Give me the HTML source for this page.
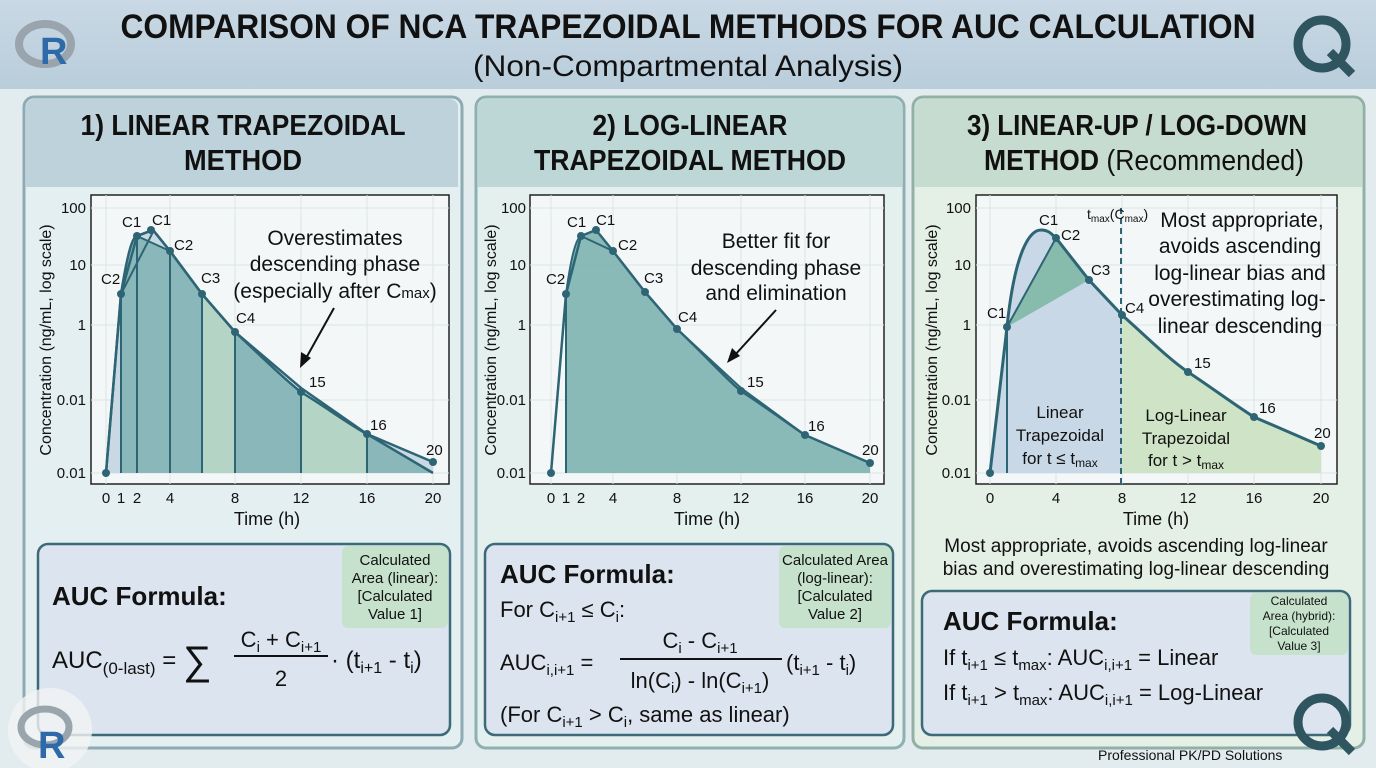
<!DOCTYPE html>
<html><head><meta charset="utf-8"><style>
html,body{margin:0;padding:0;width:1376px;height:768px;overflow:hidden;background:#dfe9ec}
svg{display:block}
text{font-family:"Liberation Sans Narrow","Liberation Sans",sans-serif;fill:#111}
.b{font-weight:bold}
.tk{font-size:15px}
.lb{font-size:15px}
</style></head><body>
<svg width="1376" height="768" viewBox="0 0 1376 768" xmlns="http://www.w3.org/2000/svg">
<defs>
<linearGradient id="hd" x1="0" x2="0" y1="0" y2="1"><stop offset="0" stop-color="#c9d8e4"/><stop offset="1" stop-color="#b9cddb"/></linearGradient>
</defs>
<rect width="1376" height="768" fill="#e2ecee"/>
<rect width="1376" height="89" fill="url(#hd)"/>
<!-- logos -->
<g><ellipse cx="45" cy="44" rx="26" ry="20" fill="none" stroke="#9aa4ad" stroke-width="8"/><text x="40" y="64" class="b" style="font-size:38px;fill:#2f6aa8">R</text></g>
<g><circle cx="1322" cy="44" r="24" fill="none" stroke="#2f5560" stroke-width="9"/><line x1="1330" y1="52" x2="1352" y2="74" stroke="#2f5560" stroke-width="9"/></g>
<text x="688" y="38" text-anchor="middle" class="b" style="font-size:34px" textLength="1135" lengthAdjust="spacingAndGlyphs">COMPARISON OF NCA TRAPEZOIDAL METHODS FOR AUC CALCULATION</text>
<text x="688" y="76" text-anchor="middle" style="font-size:30px" textLength="430" lengthAdjust="spacingAndGlyphs">(Non-Compartmental Analysis)</text>

<!-- panels -->
<rect x="24" y="97" width="438" height="651" rx="10" fill="#e3eff1" stroke="#8eaab4" stroke-width="3"/>
<path d="M26 187 V107 a8 8 0 0 1 8 -8 H450 a8 8 0 0 1 8 8 V187Z" fill="#bed2dc"/>
<rect x="476" y="97" width="428" height="651" rx="10" fill="#e3f0ee" stroke="#8eb0b0" stroke-width="3"/>
<path d="M478 187 V107 a8 8 0 0 1 8 -8 H894 a8 8 0 0 1 8 8 V187Z" fill="#bdd7d6"/>
<rect x="913" y="97" width="451" height="651" rx="10" fill="#e4efe6" stroke="#92b0a6" stroke-width="3"/>
<path d="M915 187 V107 a8 8 0 0 1 8 -8 H1354 a8 8 0 0 1 8 8 V187Z" fill="#c6dcd0"/>

<text x="243" y="135" text-anchor="middle" class="b" style="font-size:29px" textLength="325" lengthAdjust="spacingAndGlyphs">1) LINEAR TRAPEZOIDAL</text>
<text x="243" y="170" text-anchor="middle" class="b" style="font-size:29px" textLength="118" lengthAdjust="spacingAndGlyphs">METHOD</text>
<text x="690" y="135" text-anchor="middle" class="b" style="font-size:29px" textLength="195" lengthAdjust="spacingAndGlyphs">2) LOG-LINEAR</text>
<text x="690" y="170" text-anchor="middle" class="b" style="font-size:29px" textLength="312" lengthAdjust="spacingAndGlyphs">TRAPEZOIDAL METHOD</text>
<text x="1137" y="135" text-anchor="middle" class="b" style="font-size:29px" textLength="340" lengthAdjust="spacingAndGlyphs">3) LINEAR-UP / LOG-DOWN</text>
<text x="984" y="170" class="b" style="font-size:29px" textLength="320" lengthAdjust="spacingAndGlyphs">METHOD <tspan style="font-weight:normal">(Recommended)</tspan></text>

<!-- ===== chart 1 ===== -->
<g>
<rect x="91" y="195" width="358" height="289" fill="#f4f7f7" stroke="#222" stroke-width="1.5"/>
<g stroke="#dde3e3" stroke-width="1">
<line x1="91" y1="208" x2="449" y2="208"/><line x1="91" y1="265" x2="449" y2="265"/><line x1="91" y1="325" x2="449" y2="325"/><line x1="91" y1="400" x2="449" y2="400"/><line x1="91" y1="473" x2="449" y2="473"/>
<line x1="106" y1="195" x2="106" y2="484"/><line x1="170" y1="195" x2="170" y2="484"/><line x1="235" y1="195" x2="235" y2="484"/><line x1="301" y1="195" x2="301" y2="484"/><line x1="367" y1="195" x2="367" y2="484"/><line x1="433" y1="195" x2="433" y2="484"/>
</g>
<path d="M106 473 L121 294 L137 236 L153 230 L170 251 L202 294 L235 332 L301 392 L367 434 L433 462 L433 473Z" fill="#c9d9e4" stroke="none"/>
<path d="M121 473 L121 294 C128 250 133 236 137 236 L170 251 L202 294 L235 332 C260 355 285 380 301 392 C330 410 350 425 367 434 L433 473Z" fill="#7fb0b2" opacity="0.85"/>
<path d="M202 473 V294 L235 332 V473Z M301 473 V392 C330 410 350 425 367 434 V473Z" fill="#b8d8c6" opacity="0.9"/>
<path d="M106 473 L121 294 C128 250 133 236 137 236 L153 230 L170 251 L202 294 L235 332 C260 355 285 380 301 392 C330 410 350 425 367 434 L433 473" fill="none" stroke="#2d6575" stroke-width="2.5"/>
<path d="M106 473 L121 294 L137 236 L153 230 L170 251 L202 294 L235 332 L301 388 L367 434 L433 462" fill="none" stroke="#2d6575" stroke-width="2.5"/>
<path d="M121 294 L153 232 M137 236 L170 251" stroke="#2d6575" stroke-width="2" fill="none"/>
<g stroke="#2d6575" stroke-width="2"><line x1="121" y1="294" x2="121" y2="473"/><line x1="137" y1="236" x2="137" y2="473"/><line x1="170" y1="251" x2="170" y2="473"/><line x1="202" y1="294" x2="202" y2="473"/><line x1="235" y1="332" x2="235" y2="473"/><line x1="301" y1="392" x2="301" y2="473"/><line x1="367" y1="434" x2="367" y2="473"/></g>
<g fill="#2d6575"><circle cx="106" cy="473" r="4"/><circle cx="121" cy="294" r="4"/><circle cx="137" cy="236" r="4"/><circle cx="151" cy="230" r="4"/><circle cx="170" cy="251" r="4"/><circle cx="202" cy="294" r="4"/><circle cx="235" cy="332" r="4"/><circle cx="301" cy="392" r="4"/><circle cx="367" cy="434" r="4"/><circle cx="433" cy="462" r="4"/></g>
<g class="lb"><text x="101" y="284">C2</text><text x="122" y="227">C1</text><text x="152" y="225">C1</text><text x="174" y="250">C2</text><text x="201" y="283">C3</text><text x="236" y="323">C4</text><text x="309" y="387">15</text><text x="370" y="430">16</text><text x="426" y="455">20</text></g>
<g class="tk" text-anchor="end"><text x="86" y="213">100</text><text x="86" y="270">10</text><text x="86" y="330">1</text><text x="86" y="405">0.01</text><text x="86" y="478">0.01</text></g>
<g class="tk" text-anchor="middle"><text x="106" y="503">0</text><text x="121" y="503">1</text><text x="137" y="503">2</text><text x="170" y="503">4</text><text x="235" y="503">8</text><text x="301" y="503">12</text><text x="367" y="503">16</text><text x="433" y="503">20</text></g>
<text x="267" y="525" text-anchor="middle" style="font-size:18px">Time (h)</text>
<text transform="translate(51 340) rotate(-90)" text-anchor="middle" style="font-size:16px">Concentration (ng/mL, log scale)</text>
<g text-anchor="middle" style="font-size:21px"><text x="335" y="245">Overestimates</text><text x="335" y="271">descending phase</text><text x="335" y="298">(especially after C<tspan style="font-size:15px">max</tspan>)</text></g>
<path d="M334 308 L305 360" stroke="#111" stroke-width="2"/><path d="M300 368 L301 352 L311 358Z" fill="#111"/>
</g>

<!-- ===== chart 2 ===== -->
<g>
<rect x="530" y="195" width="354" height="289" fill="#f4f7f7" stroke="#222" stroke-width="1.5"/>
<g stroke="#dde3e3" stroke-width="1">
<line x1="530" y1="208" x2="884" y2="208"/><line x1="530" y1="265" x2="884" y2="265"/><line x1="530" y1="325" x2="884" y2="325"/><line x1="530" y1="400" x2="884" y2="400"/><line x1="530" y1="473" x2="884" y2="473"/>
<line x1="551" y1="195" x2="551" y2="484"/><line x1="613" y1="195" x2="613" y2="484"/><line x1="677" y1="195" x2="677" y2="484"/><line x1="741" y1="195" x2="741" y2="484"/><line x1="805" y1="195" x2="805" y2="484"/><line x1="870" y1="195" x2="870" y2="484"/>
</g>
<path d="M566 473 L566 294 C573 250 578 236 581 236 L596 230 L613 251 L645 292 L677 329 C705 355 725 378 741 391 C770 410 790 425 805 435 L870 463 V473Z" fill="#7db3b0" opacity="0.9"/>
<path d="M551 473 L566 294 L581 236 L596 230 L613 251 L645 292 L677 329 C705 355 725 378 741 391 C770 410 790 425 805 435 L870 463" fill="none" stroke="#2d6575" stroke-width="2.5"/>
<path d="M566 294 C572 250 577 238 581 236 M581 236 L613 251 M677 329 L741 388 L805 435" fill="none" stroke="#2d6575" stroke-width="2"/>
<line x1="566" y1="294" x2="566" y2="473" stroke="#2d6575" stroke-width="2"/>
<g fill="#2d6575"><circle cx="551" cy="473" r="4"/><circle cx="566" cy="294" r="4"/><circle cx="581" cy="236" r="4"/><circle cx="596" cy="230" r="4"/><circle cx="613" cy="251" r="4"/><circle cx="645" cy="292" r="4"/><circle cx="677" cy="329" r="4"/><circle cx="741" cy="391" r="4"/><circle cx="805" cy="435" r="4"/><circle cx="870" cy="463" r="4"/></g>
<g class="lb"><text x="546" y="284">C2</text><text x="567" y="227">C1</text><text x="596" y="225">C1</text><text x="618" y="250">C2</text><text x="644" y="283">C3</text><text x="678" y="322">C4</text><text x="747" y="387">15</text><text x="808" y="431">16</text><text x="862" y="455">20</text></g>
<g class="tk" text-anchor="end"><text x="526" y="213">100</text><text x="526" y="270">10</text><text x="526" y="330">1</text><text x="526" y="405">0.01</text><text x="526" y="478">0.01</text></g>
<g class="tk" text-anchor="middle"><text x="551" y="503">0</text><text x="566" y="503">1</text><text x="581" y="503">2</text><text x="613" y="503">4</text><text x="677" y="503">8</text><text x="741" y="503">12</text><text x="805" y="503">16</text><text x="870" y="503">20</text></g>
<text x="707" y="525" text-anchor="middle" style="font-size:18px">Time (h)</text>
<text transform="translate(496 340) rotate(-90)" text-anchor="middle" style="font-size:16px">Concentration (ng/mL, log scale)</text>
<g text-anchor="middle" style="font-size:21px"><text x="776" y="248">Better fit for</text><text x="776" y="275">descending phase</text><text x="776" y="300">and elimination</text></g>
<path d="M776 310 L734 356" stroke="#111" stroke-width="2"/><path d="M727 363 L732 348 L740 356Z" fill="#111"/>
</g>

<!-- ===== chart 3 ===== -->
<g>
<rect x="976" y="195" width="361" height="289" fill="#f4f7f7" stroke="#222" stroke-width="1.5"/>
<g stroke="#dde3e3" stroke-width="1">
<line x1="976" y1="208" x2="1337" y2="208"/><line x1="976" y1="265" x2="1337" y2="265"/><line x1="976" y1="325" x2="1337" y2="325"/><line x1="976" y1="400" x2="1337" y2="400"/><line x1="976" y1="473" x2="1337" y2="473"/>
<line x1="990" y1="195" x2="990" y2="484"/><line x1="1056" y1="195" x2="1056" y2="484"/><line x1="1122" y1="195" x2="1122" y2="484"/><line x1="1188" y1="195" x2="1188" y2="484"/><line x1="1254" y1="195" x2="1254" y2="484"/><line x1="1321" y1="195" x2="1321" y2="484"/>
</g>
<path d="M990 473 L1007 327 C1015 250 1030 230 1041 230 C1050 230 1053 236 1056 238 L1089 280 L1122 315 V473Z" fill="#c8d8e6"/>
<path d="M1007 327 L1056 238 L1089 280 Z" fill="#7fb9a6" opacity="0.9"/>
<path d="M1122 315 C1150 340 1170 360 1188 372 C1215 390 1235 405 1254 417 L1321 446 V473 H1122Z" fill="#cfe3c6"/>
<path d="M990 473 L1007 327 C1015 250 1030 230 1041 230 C1050 230 1053 236 1056 238 L1089 280 L1122 315 C1150 340 1170 360 1188 372 C1215 390 1235 405 1254 417 L1321 446" fill="none" stroke="#2d6575" stroke-width="3"/>
<path d="M1007 327 L1056 238 M1007 473 V327" stroke="#2d6575" stroke-width="2" fill="none"/>
<line x1="1121" y1="208" x2="1121" y2="484" stroke="#2d6575" stroke-width="2" stroke-dasharray="6 4"/>
<g fill="#2d6575"><circle cx="990" cy="473" r="4"/><circle cx="1007" cy="327" r="4"/><circle cx="1056" cy="238" r="4"/><circle cx="1089" cy="280" r="4"/><circle cx="1122" cy="315" r="4"/><circle cx="1188" cy="372" r="4"/><circle cx="1254" cy="417" r="4"/><circle cx="1321" cy="446" r="4"/></g>
<g class="lb"><text x="987" y="318">C1</text><text x="1039" y="225">C1</text><text x="1061" y="240">C2</text><text x="1091" y="275">C3</text><text x="1125" y="313">C4</text><text x="1194" y="368">15</text><text x="1259" y="413">16</text><text x="1314" y="438">20</text></g>
<text x="1087" y="219" style="font-size:14px">t<tspan style="font-size:10px" dy="3">max</tspan><tspan dy="-3">(C</tspan><tspan style="font-size:10px" dy="3">max</tspan><tspan dy="-3">)</tspan></text>
<g text-anchor="middle" style="font-size:21px"><text x="1242" y="227">Most appropriate,</text><text x="1240" y="253">avoids ascending</text><text x="1240" y="280">log-linear bias and</text><text x="1237" y="306">overestimating log-</text><text x="1240" y="333">linear descending</text></g>
<g text-anchor="middle" style="font-size:17px"><text x="1060" y="418">Linear</text><text x="1060" y="441">Trapezoidal</text><text x="1060" y="464">for t ≤ t<tspan style="font-size:12px" dy="3">max</tspan></text>
<text x="1186" y="421">Log-Linear</text><text x="1186" y="444">Trapezoidal</text><text x="1186" y="466">for t &gt; t<tspan style="font-size:12px" dy="3">max</tspan></text></g>
<g class="tk" text-anchor="end"><text x="971" y="213">100</text><text x="971" y="270">10</text><text x="971" y="330">1</text><text x="971" y="405">0.01</text><text x="971" y="478">0.01</text></g>
<g class="tk" text-anchor="middle"><text x="990" y="503">0</text><text x="1056" y="503">4</text><text x="1122" y="503">8</text><text x="1188" y="503">12</text><text x="1254" y="503">16</text><text x="1321" y="503">20</text></g>
<text x="1156" y="525" text-anchor="middle" style="font-size:18px">Time (h)</text>
<text transform="translate(937 340) rotate(-90)" text-anchor="middle" style="font-size:16px">Concentration (ng/mL, log scale)</text>
<text x="1136" y="552" text-anchor="middle" style="font-size:19px">Most appropriate, avoids ascending log-linear</text>
<text x="1136" y="575" text-anchor="middle" style="font-size:19px">bias and overestimating log-linear descending</text>
</g>

<!-- formula boxes -->
<rect x="38" y="544" width="412" height="191" rx="10" fill="#dce5ef" stroke="#3d6a78" stroke-width="2.5"/>
<rect x="342" y="546" width="106" height="82" rx="6" fill="#c6e2cc"/>
<g text-anchor="middle" style="font-size:15px"><text x="395" y="565">Calculated</text><text x="395" y="583">Area (linear):</text><text x="395" y="601">[Calculated</text><text x="395" y="619">Value 1]</text></g>
<text x="52" y="605" class="b" style="font-size:26px">AUC Formula:</text>
<text x="52" y="668" style="font-size:24px">AUC<tspan style="font-size:17px" dy="6">(0-last)</tspan><tspan dy="-6"> = </tspan><tspan style="font-size:40px" dy="6">∑</tspan></text>
<text x="281" y="647" text-anchor="middle" style="font-size:22px">C<tspan style="font-size:15px" dy="5">i</tspan><tspan dy="-5"> + C</tspan><tspan style="font-size:15px" dy="5">i+1</tspan></text>
<line x1="234" y1="656" x2="328" y2="656" stroke="#111" stroke-width="2"/>
<text x="281" y="686" text-anchor="middle" style="font-size:22px">2</text>
<text x="331" y="668" style="font-size:24px">· (t<tspan style="font-size:16px" dy="5">i+1</tspan><tspan dy="-5"> - t</tspan><tspan style="font-size:16px" dy="5">i</tspan><tspan dy="-5">)</tspan></text>

<rect x="485" y="544" width="408" height="191" rx="10" fill="#dce5ef" stroke="#3d6a78" stroke-width="2.5"/>
<rect x="779" y="546" width="112" height="82" rx="6" fill="#c6e2cc"/>
<g text-anchor="middle" style="font-size:15px"><text x="835" y="565">Calculated Area</text><text x="835" y="583">(log-linear):</text><text x="835" y="601">[Calculated</text><text x="835" y="619">Value 2]</text></g>
<text x="500" y="583" class="b" style="font-size:26px">AUC Formula:</text>
<text x="500" y="617" style="font-size:22px">For C<tspan style="font-size:15px" dy="5">i+1</tspan><tspan dy="-5"> ≤ C</tspan><tspan style="font-size:15px" dy="5">i</tspan><tspan dy="-5">:</tspan></text>
<text x="500" y="670" style="font-size:22px">AUC<tspan style="font-size:15px" dy="5">i,i+1</tspan><tspan dy="-5"> =</tspan></text>
<text x="700" y="648" text-anchor="middle" style="font-size:22px">C<tspan style="font-size:15px" dy="5">i</tspan><tspan dy="-5"> - C</tspan><tspan style="font-size:15px" dy="5">i+1</tspan></text>
<line x1="620" y1="659" x2="782" y2="659" stroke="#111" stroke-width="2"/>
<text x="700" y="688" text-anchor="middle" style="font-size:22px">ln(C<tspan style="font-size:15px" dy="5">i</tspan><tspan dy="-5">) - ln(C</tspan><tspan style="font-size:15px" dy="5">i+1</tspan><tspan dy="-5">)</tspan></text>
<text x="786" y="670" style="font-size:22px">(t<tspan style="font-size:15px" dy="5">i+1</tspan><tspan dy="-5"> - t</tspan><tspan style="font-size:15px" dy="5">i</tspan><tspan dy="-5">)</tspan></text>
<text x="500" y="722" style="font-size:22px">(For C<tspan style="font-size:15px" dy="5">i+1</tspan><tspan dy="-5"> &gt; C</tspan><tspan style="font-size:15px" dy="5">i</tspan><tspan dy="-5">, same as linear)</tspan></text>

<rect x="922" y="591" width="428" height="144" rx="10" fill="#dce5ef" stroke="#3d6a78" stroke-width="2.5"/>
<rect x="1250" y="593" width="98" height="62" rx="6" fill="#c6e2cc"/>
<g text-anchor="middle" style="font-size:12px"><text x="1299" y="605">Calculated</text><text x="1299" y="620">Area (hybrid):</text><text x="1299" y="635">[Calculated</text><text x="1299" y="650">Value 3]</text></g>
<text x="943" y="630" class="b" style="font-size:26px">AUC Formula:</text>
<text x="943" y="665" style="font-size:22px">If t<tspan style="font-size:15px" dy="5">i+1</tspan><tspan dy="-5"> ≤ t</tspan><tspan style="font-size:15px" dy="5">max</tspan><tspan dy="-5">: AUC</tspan><tspan style="font-size:15px" dy="5">i,i+1</tspan><tspan dy="-5"> = Linear</tspan></text>
<text x="943" y="700" style="font-size:22px">If t<tspan style="font-size:15px" dy="5">i+1</tspan><tspan dy="-5"> &gt; t</tspan><tspan style="font-size:15px" dy="5">max</tspan><tspan dy="-5">: AUC</tspan><tspan style="font-size:15px" dy="5">i,i+1</tspan><tspan dy="-5"> = Log-Linear</tspan></text>

<!-- bottom logos -->
<circle cx="50" cy="730" r="42" fill="#f2f4f4" opacity="0.8"/>
<ellipse cx="45" cy="727" rx="24" ry="18" fill="none" stroke="#9aa4ad" stroke-width="7"/><text x="38" y="758" class="b" style="font-size:38px;fill:#2f6aa8">R</text>
<circle cx="1322" cy="722" r="24" fill="none" stroke="#2f5560" stroke-width="9"/><line x1="1330" y1="730" x2="1352" y2="752" stroke="#2f5560" stroke-width="9"/>
<text x="1098" y="760" style="font-size:14px">Professional PK/PD Solutions</text>
</svg>
</body></html>
